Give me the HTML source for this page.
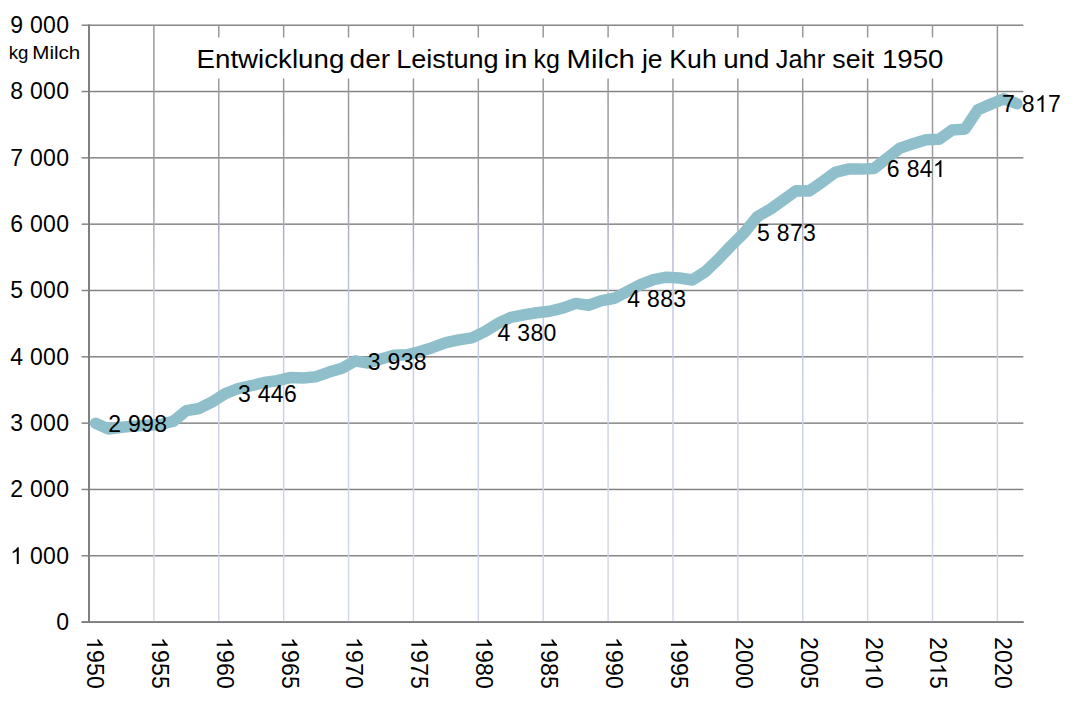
<!DOCTYPE html>
<html><head><meta charset="utf-8"><title>Chart</title>
<style>html,body{margin:0;padding:0;background:#fff;}svg{display:block}text{font-family:"Liberation Sans",sans-serif;fill:#000}</style></head><body>
<svg width="1075" height="710" viewBox="0 0 1075 710">
<defs><linearGradient id="vg" gradientUnits="userSpaceOnUse" x1="0" y1="25" x2="0" y2="622"><stop offset="0.0000" stop-color="#959595"/><stop offset="0.3015" stop-color="#9b9b9f"/><stop offset="0.3568" stop-color="#b0b3cc"/><stop offset="0.4606" stop-color="#c2c8e0"/><stop offset="0.6784" stop-color="#ccd2e8"/><stop offset="1.0000" stop-color="#d3d7ea"/></linearGradient></defs>
<rect width="1075" height="710" fill="#fff"/>
<rect x="81.6" y="621.38" width="941.74" height="1.45" fill="#828282"/>
<rect x="81.6" y="555.05" width="941.74" height="1.45" fill="#828282"/>
<rect x="81.6" y="488.73" width="941.74" height="1.45" fill="#828282"/>
<rect x="81.6" y="422.41" width="941.74" height="1.45" fill="#828282"/>
<rect x="81.6" y="356.09" width="941.74" height="1.45" fill="#828282"/>
<rect x="81.6" y="289.76" width="941.74" height="1.45" fill="#828282"/>
<rect x="81.6" y="223.44" width="941.74" height="1.45" fill="#828282"/>
<rect x="81.6" y="157.12" width="941.74" height="1.45" fill="#828282"/>
<rect x="81.6" y="90.80" width="941.74" height="1.45" fill="#828282"/>
<rect x="81.6" y="24.48" width="941.74" height="1.45" fill="#828282"/>
<rect x="153.16" y="25.20" width="1.45" height="596.90" fill="url(#vg)"/>
<rect x="218.05" y="25.20" width="1.45" height="596.90" fill="url(#vg)"/>
<rect x="282.93" y="25.20" width="1.45" height="596.90" fill="url(#vg)"/>
<rect x="347.81" y="25.20" width="1.45" height="596.90" fill="url(#vg)"/>
<rect x="412.70" y="25.20" width="1.45" height="596.90" fill="url(#vg)"/>
<rect x="477.59" y="25.20" width="1.45" height="596.90" fill="url(#vg)"/>
<rect x="542.47" y="25.20" width="1.45" height="596.90" fill="url(#vg)"/>
<rect x="607.36" y="25.20" width="1.45" height="596.90" fill="url(#vg)"/>
<rect x="672.24" y="25.20" width="1.45" height="596.90" fill="url(#vg)"/>
<rect x="737.12" y="25.20" width="1.45" height="596.90" fill="url(#vg)"/>
<rect x="802.01" y="25.20" width="1.45" height="596.90" fill="url(#vg)"/>
<rect x="866.90" y="25.20" width="1.45" height="596.90" fill="url(#vg)"/>
<rect x="931.78" y="25.20" width="1.45" height="596.90" fill="url(#vg)"/>
<rect x="996.67" y="25.20" width="1.45" height="596.90" fill="url(#vg)"/>
<rect x="81.6" y="621.20" width="942.14" height="1.8" fill="#7e7e7e"/>
<rect x="88.00" y="24.47" width="2" height="598.35" fill="#808080"/>
<rect x="190" y="37.5" width="760" height="41" fill="#fff"/>
<polyline points="95.49,423.27 108.47,429.04 121.44,427.25 134.42,426.12 147.40,425.32 160.37,424.46 173.35,421.28 186.33,410.60 199.30,408.48 212.28,401.78 225.26,393.55 238.24,388.51 251.21,385.73 264.19,382.54 277.17,380.69 290.14,377.57 303.12,377.97 316.10,376.71 329.07,372.07 342.05,368.28 355.03,360.92 368.01,363.05 380.98,359.00 393.96,355.29 406.94,354.76 419.91,351.57 432.89,347.46 445.87,342.62 458.84,339.90 471.82,337.84 484.80,331.61 497.78,323.52 510.75,317.35 523.73,314.96 536.71,312.71 549.68,311.25 562.66,308.06 575.64,303.42 588.61,305.28 601.59,300.64 614.57,298.25 627.55,291.35 640.52,284.65 653.50,279.55 666.48,277.16 679.45,278.02 692.43,279.94 705.41,271.59 718.38,259.12 731.36,245.52 744.34,232.59 757.32,216.67 770.29,209.24 783.27,199.96 796.25,190.67 809.22,191.01 822.20,181.92 835.18,172.44 848.15,169.12 861.13,169.12 874.11,168.39 887.09,158.31 900.06,148.10 913.04,143.78 926.02,139.74 938.99,139.34 951.97,130.06 964.95,129.13 977.92,109.83 990.90,104.12 1003.88,98.88 1016.86,103.66" fill="none" stroke="#8fbfca" stroke-width="11.5" stroke-linejoin="round" stroke-linecap="round"/>
<text transform="translate(196.57,67.6) scale(1.0489,1)" font-size="26.4">Entwicklung</text>
<text transform="translate(349.61,67.6) scale(1.0621,1)" font-size="26.4">der</text>
<text transform="translate(396.22,67.6) scale(1.0263,1)" font-size="26.4">Leistung</text>
<text transform="translate(504.00,67.6) scale(1.1445,1)" font-size="26.4">in</text>
<text transform="translate(533.54,67.6) scale(0.9477,1)" font-size="26.4">kg</text>
<text transform="translate(566.54,67.6) scale(1.1100,1)" font-size="26.4">Milch</text>
<text transform="translate(641.93,67.6) scale(1.0050,1)" font-size="26.4">je</text>
<text transform="translate(669.36,67.6) scale(1.0087,1)" font-size="26.4">Kuh</text>
<text transform="translate(723.16,67.6) scale(1.0511,1)" font-size="26.4">und</text>
<text transform="translate(775.84,67.6) scale(0.9604,1)" font-size="26.4">Jahr</text>
<text transform="translate(832.34,67.6) scale(1.0168,1)" font-size="26.4">seit</text>
<text transform="translate(881.90,67.6) scale(1.0499,1)" font-size="26.4">1950</text>
<g transform="translate(56.22,630)"><text x="0.00" y="0" font-size="23" letter-spacing="0.3">0</text></g>
<g transform="translate(10.22,564)"><path transform="translate(0.00,0) scale(0.01123,-0.01137)" d="M763 0H583V1147Q518 1085 412 1023Q307 961 223 930V1104Q374 1175 487 1276Q600 1377 647 1472H763Z"/><text x="19.78" y="0" font-size="23" letter-spacing="0.3">000</text></g>
<g transform="translate(10.22,497)"><text x="0.00" y="0" font-size="23" letter-spacing="0.3">2</text><text x="19.78" y="0" font-size="23" letter-spacing="0.3">000</text></g>
<g transform="translate(10.22,431)"><text x="0.00" y="0" font-size="23" letter-spacing="0.3">3</text><text x="19.78" y="0" font-size="23" letter-spacing="0.3">000</text></g>
<g transform="translate(10.22,365)"><text x="0.00" y="0" font-size="23" letter-spacing="0.3">4</text><text x="19.78" y="0" font-size="23" letter-spacing="0.3">000</text></g>
<g transform="translate(10.22,298)"><text x="0.00" y="0" font-size="23" letter-spacing="0.3">5</text><text x="19.78" y="0" font-size="23" letter-spacing="0.3">000</text></g>
<g transform="translate(10.22,232)"><text x="0.00" y="0" font-size="23" letter-spacing="0.3">6</text><text x="19.78" y="0" font-size="23" letter-spacing="0.3">000</text></g>
<g transform="translate(10.22,166)"><text x="0.00" y="0" font-size="23" letter-spacing="0.3">7</text><text x="19.78" y="0" font-size="23" letter-spacing="0.3">000</text></g>
<g transform="translate(10.22,99)"><text x="0.00" y="0" font-size="23" letter-spacing="0.3">8</text><text x="19.78" y="0" font-size="23" letter-spacing="0.3">000</text></g>
<g transform="translate(10.22,33)"><text x="0.00" y="0" font-size="23" letter-spacing="0.3">9</text><text x="19.78" y="0" font-size="23" letter-spacing="0.3">000</text></g>
<text transform="translate(8.81,58.8) scale(1.0346,1)" font-size="18">kg</text>
<text transform="translate(32.29,58.8) scale(1.1429,1)" font-size="18">Milch</text>
<g transform="translate(86.91,637.1) rotate(90)"><path transform="translate(0.00,0) scale(0.01123,-0.01080)" d="M763 0H583V1147Q518 1085 412 1023Q307 961 223 930V1104Q374 1175 487 1276Q600 1377 647 1472H763Z"/><text x="12.94" y="0" font-size="23" letter-spacing="0.15">950</text></g>
<g transform="translate(151.80,637.1) rotate(90)"><path transform="translate(0.00,0) scale(0.01123,-0.01080)" d="M763 0H583V1147Q518 1085 412 1023Q307 961 223 930V1104Q374 1175 487 1276Q600 1377 647 1472H763Z"/><text x="12.94" y="0" font-size="23" letter-spacing="0.15">955</text></g>
<g transform="translate(216.68,637.1) rotate(90)"><path transform="translate(0.00,0) scale(0.01123,-0.01080)" d="M763 0H583V1147Q518 1085 412 1023Q307 961 223 930V1104Q374 1175 487 1276Q600 1377 647 1472H763Z"/><text x="12.94" y="0" font-size="23" letter-spacing="0.15">960</text></g>
<g transform="translate(281.57,637.1) rotate(90)"><path transform="translate(0.00,0) scale(0.01123,-0.01080)" d="M763 0H583V1147Q518 1085 412 1023Q307 961 223 930V1104Q374 1175 487 1276Q600 1377 647 1472H763Z"/><text x="12.94" y="0" font-size="23" letter-spacing="0.15">965</text></g>
<g transform="translate(346.45,637.1) rotate(90)"><path transform="translate(0.00,0) scale(0.01123,-0.01080)" d="M763 0H583V1147Q518 1085 412 1023Q307 961 223 930V1104Q374 1175 487 1276Q600 1377 647 1472H763Z"/><text x="12.94" y="0" font-size="23" letter-spacing="0.15">970</text></g>
<g transform="translate(411.34,637.1) rotate(90)"><path transform="translate(0.00,0) scale(0.01123,-0.01080)" d="M763 0H583V1147Q518 1085 412 1023Q307 961 223 930V1104Q374 1175 487 1276Q600 1377 647 1472H763Z"/><text x="12.94" y="0" font-size="23" letter-spacing="0.15">975</text></g>
<g transform="translate(476.22,637.1) rotate(90)"><path transform="translate(0.00,0) scale(0.01123,-0.01080)" d="M763 0H583V1147Q518 1085 412 1023Q307 961 223 930V1104Q374 1175 487 1276Q600 1377 647 1472H763Z"/><text x="12.94" y="0" font-size="23" letter-spacing="0.15">980</text></g>
<g transform="translate(541.11,637.1) rotate(90)"><path transform="translate(0.00,0) scale(0.01123,-0.01080)" d="M763 0H583V1147Q518 1085 412 1023Q307 961 223 930V1104Q374 1175 487 1276Q600 1377 647 1472H763Z"/><text x="12.94" y="0" font-size="23" letter-spacing="0.15">985</text></g>
<g transform="translate(605.99,637.1) rotate(90)"><path transform="translate(0.00,0) scale(0.01123,-0.01080)" d="M763 0H583V1147Q518 1085 412 1023Q307 961 223 930V1104Q374 1175 487 1276Q600 1377 647 1472H763Z"/><text x="12.94" y="0" font-size="23" letter-spacing="0.15">990</text></g>
<g transform="translate(670.88,637.1) rotate(90)"><path transform="translate(0.00,0) scale(0.01123,-0.01080)" d="M763 0H583V1147Q518 1085 412 1023Q307 961 223 930V1104Q374 1175 487 1276Q600 1377 647 1472H763Z"/><text x="12.94" y="0" font-size="23" letter-spacing="0.15">995</text></g>
<g transform="translate(735.76,637.1) rotate(90)"><text x="0.00" y="0" font-size="23" letter-spacing="0.15">2000</text></g>
<g transform="translate(800.65,637.1) rotate(90)"><text x="0.00" y="0" font-size="23" letter-spacing="0.15">2005</text></g>
<g transform="translate(865.53,637.1) rotate(90)"><text x="0.00" y="0" font-size="23" letter-spacing="0.15">20</text><path transform="translate(25.88,0) scale(0.01123,-0.01080)" d="M763 0H583V1147Q518 1085 412 1023Q307 961 223 930V1104Q374 1175 487 1276Q600 1377 647 1472H763Z"/><text x="38.82" y="0" font-size="23" letter-spacing="0.15">0</text></g>
<g transform="translate(930.42,637.1) rotate(90)"><text x="0.00" y="0" font-size="23" letter-spacing="0.15">20</text><path transform="translate(25.88,0) scale(0.01123,-0.01080)" d="M763 0H583V1147Q518 1085 412 1023Q307 961 223 930V1104Q374 1175 487 1276Q600 1377 647 1472H763Z"/><text x="38.82" y="0" font-size="23" letter-spacing="0.15">5</text></g>
<g transform="translate(995.30,637.1) rotate(90)"><text x="0.00" y="0" font-size="23" letter-spacing="0.15">2020</text></g>
<g transform="translate(108.24,432)"><text x="0.00" y="0" font-size="23" letter-spacing="0.3">2</text><text x="19.78" y="0" font-size="23" letter-spacing="0.3">998</text></g>
<g transform="translate(238.01,402)"><text x="0.00" y="0" font-size="23" letter-spacing="0.3">3</text><text x="19.78" y="0" font-size="23" letter-spacing="0.3">446</text></g>
<g transform="translate(367.78,370)"><text x="0.00" y="0" font-size="23" letter-spacing="0.3">3</text><text x="19.78" y="0" font-size="23" letter-spacing="0.3">938</text></g>
<g transform="translate(497.55,341)"><text x="0.00" y="0" font-size="23" letter-spacing="0.3">4</text><text x="19.78" y="0" font-size="23" letter-spacing="0.3">380</text></g>
<g transform="translate(627.32,307)"><text x="0.00" y="0" font-size="23" letter-spacing="0.3">4</text><text x="19.78" y="0" font-size="23" letter-spacing="0.3">883</text></g>
<g transform="translate(757.09,241)"><text x="0.00" y="0" font-size="23" letter-spacing="0.3">5</text><text x="19.78" y="0" font-size="23" letter-spacing="0.3">873</text></g>
<g transform="translate(886.86,177)"><text x="0.00" y="0" font-size="23" letter-spacing="0.3">6</text><text x="19.78" y="0" font-size="23" letter-spacing="0.3">84</text><path transform="translate(45.96,0) scale(0.01123,-0.01137)" d="M763 0H583V1147Q518 1085 412 1023Q307 961 223 930V1104Q374 1175 487 1276Q600 1377 647 1472H763Z"/></g>
<g transform="translate(1002.08,112)"><text x="0.00" y="0" font-size="23" letter-spacing="0.3">7</text><text x="19.78" y="0" font-size="23" letter-spacing="0.3">8</text><path transform="translate(32.87,0) scale(0.01123,-0.01137)" d="M763 0H583V1147Q518 1085 412 1023Q307 961 223 930V1104Q374 1175 487 1276Q600 1377 647 1472H763Z"/><text x="45.96" y="0" font-size="23" letter-spacing="0.3">7</text></g>
</svg></body></html>
